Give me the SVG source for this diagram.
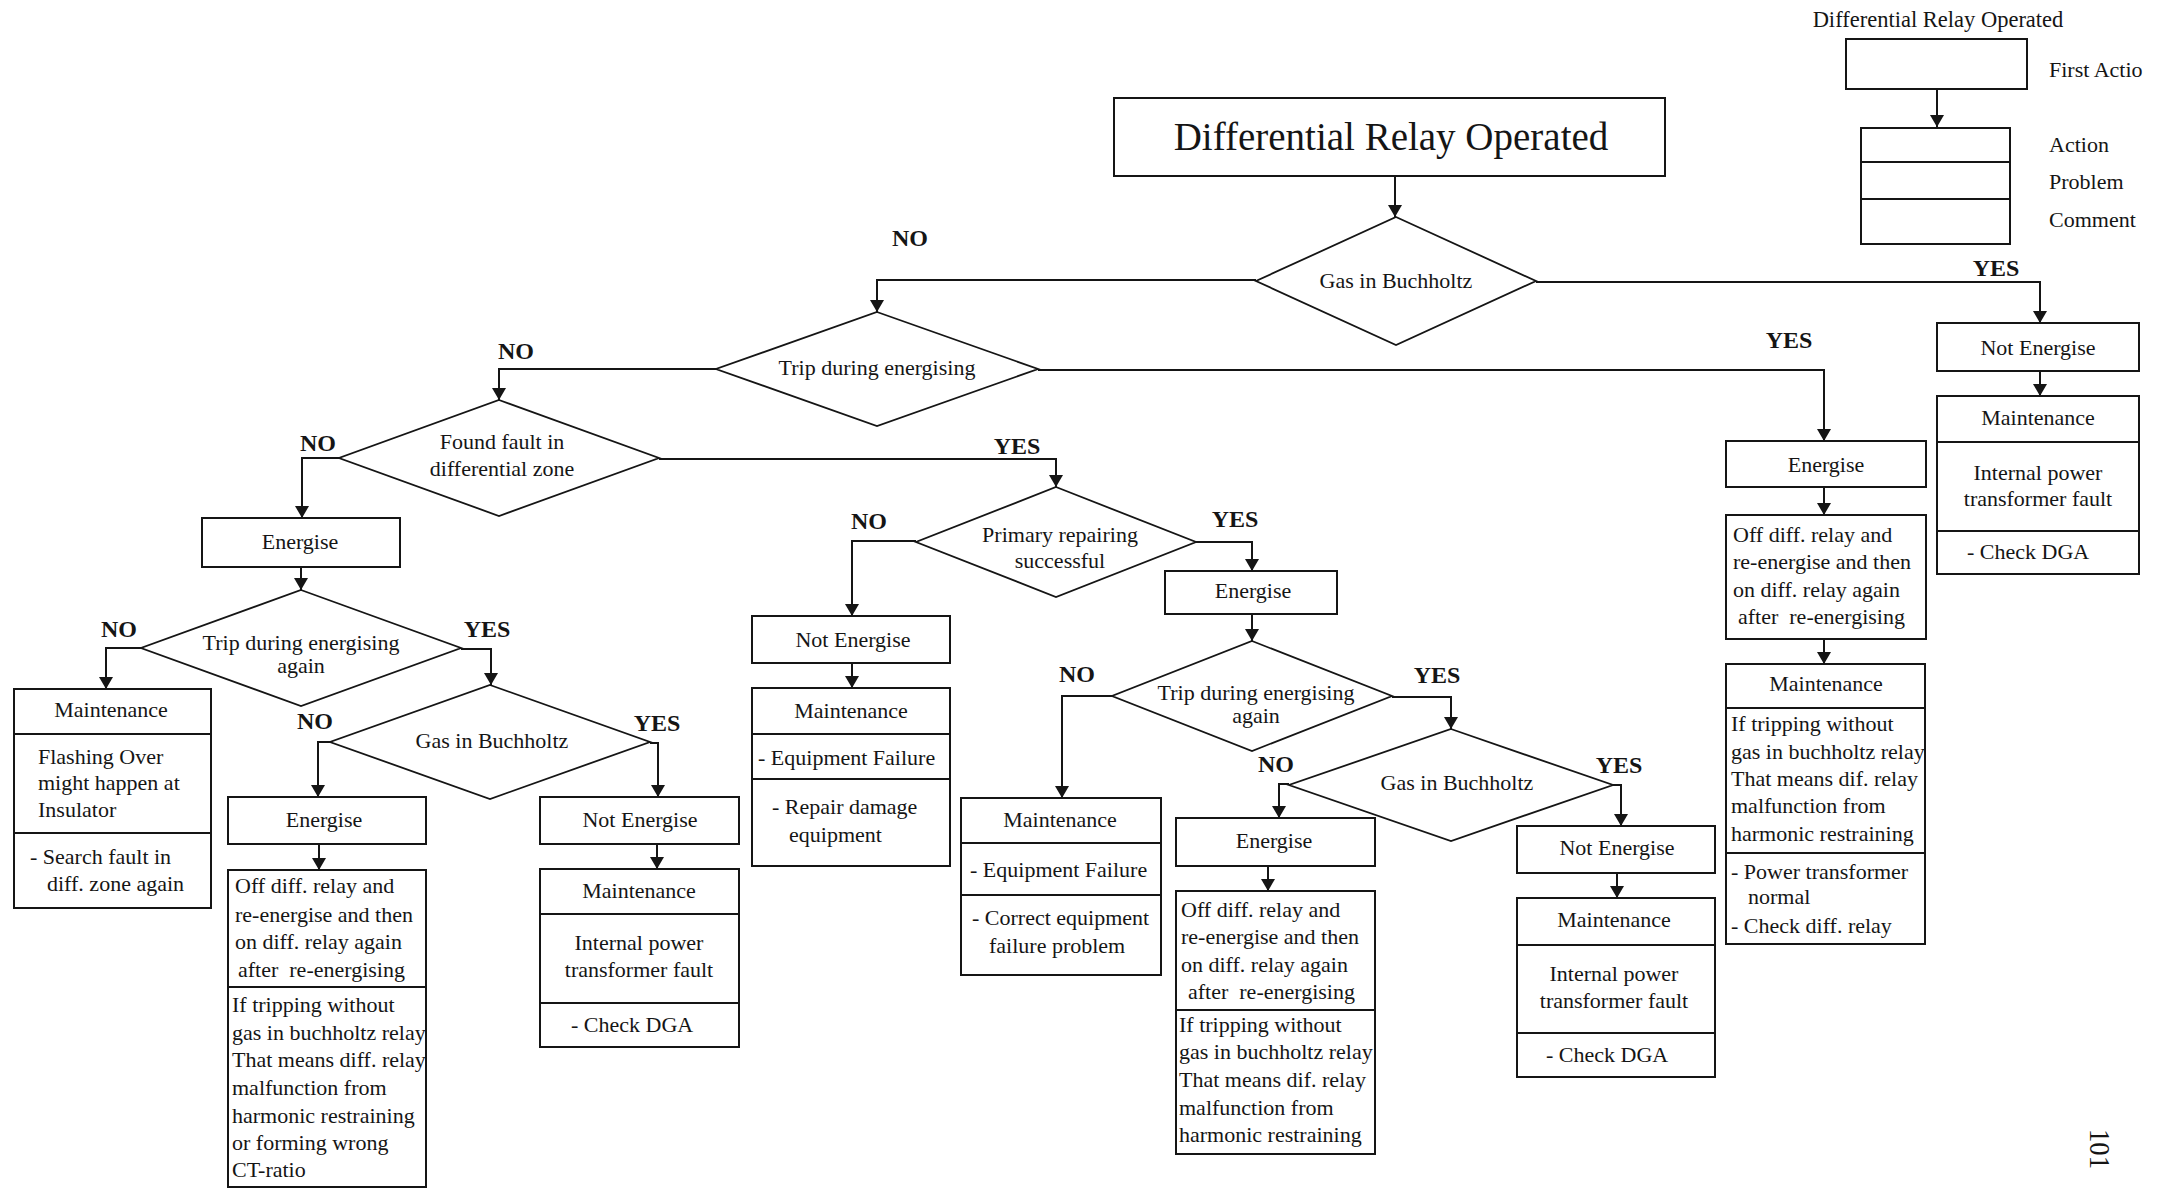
<svg xmlns="http://www.w3.org/2000/svg" width="2164" height="1189" viewBox="0 0 2164 1189">
  <style>
    .bx { fill: #fff; stroke: #151515; stroke-width: 2; }
    .dv { fill: none; stroke: #151515; stroke-width: 2; }
    .dm { fill: #fff; stroke: #151515; stroke-width: 1.8; }
    .t { font-family: "Liberation Serif", "Times New Roman", serif; font-size: 22px; fill: #151515; }
    .dt { font-size: 22px; }
    .c { text-anchor: middle; }
    .lbl { font-family: "Liberation Serif", "Times New Roman", serif; font-size: 24px; font-weight: bold; fill: #151515; text-anchor: middle; }
    .cn { fill: none; stroke: #151515; stroke-width: 2; marker-end: url(#arr); }
  </style>
  <defs>
    <marker id="arr" markerUnits="userSpaceOnUse" markerWidth="12" markerHeight="14" viewBox="0 0 12 14" refX="12" refY="7" orient="auto">
      <path d="M0,0 L12,7 L0,14 z" fill="#151515"/>
    </marker>
  </defs>
  <rect width="2164" height="1189" fill="#fff"/>

  <!-- legend -->
  <g id="legend">
    <text class="t c" x="1938" y="27" style="font-size:22.5px">Differential Relay Operated</text>
    <rect class="bx" x="1846" y="39" width="181" height="50"/>
    <text class="t" x="2049" y="77">First Actio</text>
    <line x1="1937" y1="89" x2="1937" y2="127" class="cn"/>
    <rect class="bx" x="1861" y="128" width="149" height="116"/>
    <line class="dv" x1="1861" y1="162" x2="2010" y2="162"/>
    <line class="dv" x1="1861" y1="199" x2="2010" y2="199"/>
    <text class="t" x="2049" y="152">Action</text>
    <text class="t" x="2049" y="189">Problem</text>
    <text class="t" x="2049" y="227">Comment</text>
  </g>

  <!-- connectors -->
  <g id="connectors">
    <path class="cn" d="M1395,176 V217"/>
    <path class="cn" d="M1536,282 H2040 V323"/>
    <path class="cn" d="M2040,371 V396"/>
    <path class="cn" d="M1256,280 H877 V312"/>
    <path class="cn" d="M1038,370 H1824 V441"/>
    <path class="cn" d="M1824,487 V515"/>
    <path class="cn" d="M1824,639 V664"/>
    <path class="cn" d="M716,369 H499 V400"/>
    <path class="cn" d="M339,458 H302 V518"/>
    <path class="cn" d="M301,567 V590"/>
    <path class="cn" d="M141,648 H106 V689"/>
    <path class="cn" d="M461,649 H491 V685"/>
    <path class="cn" d="M330,742 H318 V797"/>
    <path class="cn" d="M319,844 V870"/>
    <path class="cn" d="M650,743 H658 V797"/>
    <path class="cn" d="M657,844 V869"/>
    <path class="cn" d="M659,459 H1056 V487"/>
    <path class="cn" d="M916,541 H852 V616"/>
    <path class="cn" d="M852,663 V688"/>
    <path class="cn" d="M1196,542 H1252 V571"/>
    <path class="cn" d="M1252,614 V641"/>
    <path class="cn" d="M1112,696 H1062 V798"/>
    <path class="cn" d="M1392,697 H1451 V729"/>
    <path class="cn" d="M1289,784 H1279 V818"/>
    <path class="cn" d="M1268,866 V891"/>
    <path class="cn" d="M1613,785 H1621 V826"/>
    <path class="cn" d="M1617,873 V898"/>
  </g>

  <!-- branch labels -->
  <g id="labels">
    <text class="lbl" x="1996" y="276">YES</text>
    <text class="lbl" x="910" y="246">NO</text>
    <text class="lbl" x="1789" y="348">YES</text>
    <text class="lbl" x="516" y="359">NO</text>
    <text class="lbl" x="318" y="451">NO</text>
    <text class="lbl" x="1017" y="454">YES</text>
    <text class="lbl" x="119" y="637">NO</text>
    <text class="lbl" x="487" y="637">YES</text>
    <text class="lbl" x="315" y="729">NO</text>
    <text class="lbl" x="657" y="731">YES</text>
    <text class="lbl" x="869" y="529">NO</text>
    <text class="lbl" x="1235" y="527">YES</text>
    <text class="lbl" x="1077" y="682">NO</text>
    <text class="lbl" x="1437" y="683">YES</text>
    <text class="lbl" x="1276" y="772">NO</text>
    <text class="lbl" x="1619" y="773">YES</text>
  </g>

  <!-- start -->
  <g id="start">
    <rect class="bx" x="1114" y="98" width="551" height="78"/>
    <text class="t c" x="1391" y="150" style="font-size:39px">Differential Relay Operated</text>
  </g>

  <!-- decisions -->
  <g id="d-gas-1">
    <polygon class="dm" points="1396,217 1536,281 1396,345 1256,281"/>
    <text class="t dt c" x="1396" y="288">Gas in Buchholtz</text>
  </g>
  <g id="d-trip-1">
    <polygon class="dm" points="877,312 1038,369 877,426 716,369"/>
    <text class="t dt c" x="877" y="375">Trip during energising</text>
  </g>
  <g id="d-found-fault">
    <polygon class="dm" points="499,400 659,458 499,516 339,458"/>
    <text class="t dt c" x="502" y="449">Found fault in</text>
    <text class="t dt c" x="502" y="476">differential zone</text>
  </g>
  <g id="d-trip-2">
    <polygon class="dm" points="301,590 461,648 301,706 141,648"/>
    <text class="t dt c" x="301" y="650">Trip during energising</text>
    <text class="t dt c" x="301" y="673">again</text>
  </g>
  <g id="d-gas-2">
    <polygon class="dm" points="490,685 650,742 490,799 330,742"/>
    <text class="t dt c" x="492" y="748">Gas in Buchholtz</text>
  </g>
  <g id="d-primary">
    <polygon class="dm" points="1056,487 1196,542 1056,597 916,542"/>
    <text class="t dt c" x="1060" y="542">Primary repairing</text>
    <text class="t dt c" x="1060" y="568">successful</text>
  </g>
  <g id="d-trip-3">
    <polygon class="dm" points="1252,641 1392,696 1252,751 1112,696"/>
    <text class="t dt c" x="1256" y="700">Trip during energising</text>
    <text class="t dt c" x="1256" y="723">again</text>
  </g>
  <g id="d-gas-3">
    <polygon class="dm" points="1451,729 1613,785 1451,841 1289,785"/>
    <text class="t dt c" x="1457" y="790">Gas in Buchholtz</text>
  </g>

  <!-- right column: gas present -->
  <g id="n-not-energise-1">
    <rect class="bx" x="1937" y="323" width="202" height="48"/>
    <text class="t c" x="2038" y="355">Not Energise</text>
  </g>
  <g id="n-maint-1">
    <rect class="bx" x="1937" y="396" width="202" height="178"/>
    <line class="dv" x1="1937" y1="442" x2="2139" y2="442"/>
    <line class="dv" x1="1937" y1="531" x2="2139" y2="531"/>
    <text class="t c" x="2038" y="425">Maintenance</text>
    <text class="t c" x="2038" y="480">Internal power</text>
    <text class="t c" x="2038" y="506">transformer fault</text>
    <text class="t" x="1967" y="559">- Check  DGA</text>
  </g>

  <!-- trip during energising: yes -->
  <g id="n-energise-1">
    <rect class="bx" x="1726" y="441" width="200" height="46"/>
    <text class="t c" x="1826" y="472">Energise</text>
  </g>
  <g id="n-offdiff-1">
    <rect class="bx" x="1726" y="515" width="200" height="124"/>
    <text class="t" x="1733" y="542">Off diff. relay and</text>
    <text class="t" x="1733" y="569">re-energise and then</text>
    <text class="t" x="1733" y="597">on diff. relay again</text>
    <text class="t" x="1738" y="624" xml:space="preserve">after  re-energising</text>
  </g>
  <g id="n-maint-2">
    <rect class="bx" x="1726" y="664" width="199" height="280"/>
    <line class="dv" x1="1726" y1="708" x2="1925" y2="708"/>
    <line class="dv" x1="1726" y1="853" x2="1925" y2="853"/>
    <text class="t c" x="1826" y="691">Maintenance</text>
    <text class="t" x="1731" y="731">If tripping without</text>
    <text class="t" x="1731" y="759">gas in buchholtz relay</text>
    <text class="t" x="1731" y="786">That means dif. relay</text>
    <text class="t" x="1731" y="813">malfunction from</text>
    <text class="t" x="1731" y="841">harmonic restraining</text>
    <text class="t" x="1731" y="879">- Power transformer</text>
    <text class="t" x="1748" y="904">normal</text>
    <text class="t" x="1731" y="933">- Check diff. relay</text>
  </g>

  <!-- found fault: no -->
  <g id="n-energise-2">
    <rect class="bx" x="202" y="518" width="198" height="49"/>
    <text class="t c" x="300" y="549">Energise</text>
  </g>
  <g id="n-maint-3">
    <rect class="bx" x="14" y="689" width="197" height="219"/>
    <line class="dv" x1="14" y1="734" x2="211" y2="734"/>
    <line class="dv" x1="14" y1="833" x2="211" y2="833"/>
    <text class="t c" x="111" y="717">Maintenance</text>
    <text class="t" x="38" y="764">Flashing Over</text>
    <text class="t" x="38" y="790">might happen at</text>
    <text class="t" x="38" y="817">Insulator</text>
    <text class="t" x="30" y="864">- Search fault in</text>
    <text class="t" x="47" y="891">diff. zone again</text>
  </g>
  <g id="n-energise-3">
    <rect class="bx" x="228" y="797" width="198" height="47"/>
    <text class="t c" x="324" y="827">Energise</text>
  </g>
  <g id="n-offdiff-2">
    <rect class="bx" x="228" y="870" width="198" height="317"/>
    <line class="dv" x1="228" y1="987" x2="426" y2="987"/>
    <text class="t" x="235" y="893">Off diff. relay and</text>
    <text class="t" x="235" y="922">re-energise and then</text>
    <text class="t" x="235" y="949">on diff. relay again</text>
    <text class="t" x="238" y="977" xml:space="preserve">after  re-energising</text>
    <text class="t" x="232" y="1012">If tripping without</text>
    <text class="t" x="232" y="1040">gas in buchholtz relay</text>
    <text class="t" x="232" y="1067">That means diff. relay</text>
    <text class="t" x="232" y="1095">malfunction from</text>
    <text class="t" x="232" y="1123">harmonic restraining</text>
    <text class="t" x="232" y="1150">or forming wrong</text>
    <text class="t" x="232" y="1177">CT-ratio</text>
  </g>
  <g id="n-not-energise-2">
    <rect class="bx" x="540" y="797" width="199" height="47"/>
    <text class="t c" x="640" y="827">Not Energise</text>
  </g>
  <g id="n-maint-4">
    <rect class="bx" x="540" y="869" width="199" height="178"/>
    <line class="dv" x1="540" y1="914" x2="739" y2="914"/>
    <line class="dv" x1="540" y1="1003" x2="739" y2="1003"/>
    <text class="t c" x="639" y="898">Maintenance</text>
    <text class="t c" x="639" y="950">Internal power</text>
    <text class="t c" x="639" y="977">transformer fault</text>
    <text class="t" x="571" y="1032">- Check  DGA</text>
  </g>

  <!-- found fault: yes -->
  <g id="n-not-energise-3">
    <rect class="bx" x="752" y="616" width="198" height="47"/>
    <text class="t c" x="853" y="647">Not Energise</text>
  </g>
  <g id="n-maint-5">
    <rect class="bx" x="752" y="688" width="198" height="178"/>
    <line class="dv" x1="752" y1="734" x2="950" y2="734"/>
    <line class="dv" x1="752" y1="779" x2="950" y2="779"/>
    <text class="t c" x="851" y="718">Maintenance</text>
    <text class="t" x="758" y="765">- Equipment Failure</text>
    <text class="t" x="772" y="814">- Repair damage</text>
    <text class="t" x="789" y="842">equipment</text>
  </g>
  <g id="n-energise-4">
    <rect class="bx" x="1165" y="571" width="172" height="43"/>
    <text class="t c" x="1253" y="598">Energise</text>
  </g>
  <g id="n-maint-6">
    <rect class="bx" x="961" y="798" width="200" height="177"/>
    <line class="dv" x1="961" y1="843" x2="1161" y2="843"/>
    <line class="dv" x1="961" y1="895" x2="1161" y2="895"/>
    <text class="t c" x="1060" y="827">Maintenance</text>
    <text class="t" x="970" y="877">- Equipment Failure</text>
    <text class="t" x="972" y="925">- Correct equipment</text>
    <text class="t" x="989" y="953">failure problem</text>
  </g>
  <g id="n-energise-5">
    <rect class="bx" x="1176" y="818" width="199" height="48"/>
    <text class="t c" x="1274" y="848">Energise</text>
  </g>
  <g id="n-offdiff-3">
    <rect class="bx" x="1176" y="891" width="199" height="263"/>
    <line class="dv" x1="1176" y1="1010" x2="1375" y2="1010"/>
    <text class="t" x="1181" y="917">Off diff. relay and</text>
    <text class="t" x="1181" y="944">re-energise and then</text>
    <text class="t" x="1181" y="972">on diff. relay again</text>
    <text class="t" x="1188" y="999" xml:space="preserve">after  re-energising</text>
    <text class="t" x="1179" y="1032">If tripping without</text>
    <text class="t" x="1179" y="1059">gas in buchholtz relay</text>
    <text class="t" x="1179" y="1087">That means dif. relay</text>
    <text class="t" x="1179" y="1115">malfunction from</text>
    <text class="t" x="1179" y="1142">harmonic restraining</text>
  </g>
  <g id="n-not-energise-4">
    <rect class="bx" x="1517" y="826" width="198" height="47"/>
    <text class="t c" x="1617" y="855">Not Energise</text>
  </g>
  <g id="n-maint-7">
    <rect class="bx" x="1517" y="898" width="198" height="179"/>
    <line class="dv" x1="1517" y1="945" x2="1715" y2="945"/>
    <line class="dv" x1="1517" y1="1033" x2="1715" y2="1033"/>
    <text class="t c" x="1614" y="927">Maintenance</text>
    <text class="t c" x="1614" y="981">Internal power</text>
    <text class="t c" x="1614" y="1008">transformer fault</text>
    <text class="t" x="1546" y="1062">- Check  DGA</text>
  </g>

  <!-- page number -->
  <text class="t" x="0" y="0" transform="translate(2090,1149) rotate(90)" text-anchor="middle" style="font-size:30px" textLength="40" lengthAdjust="spacingAndGlyphs">101</text>
</svg>
